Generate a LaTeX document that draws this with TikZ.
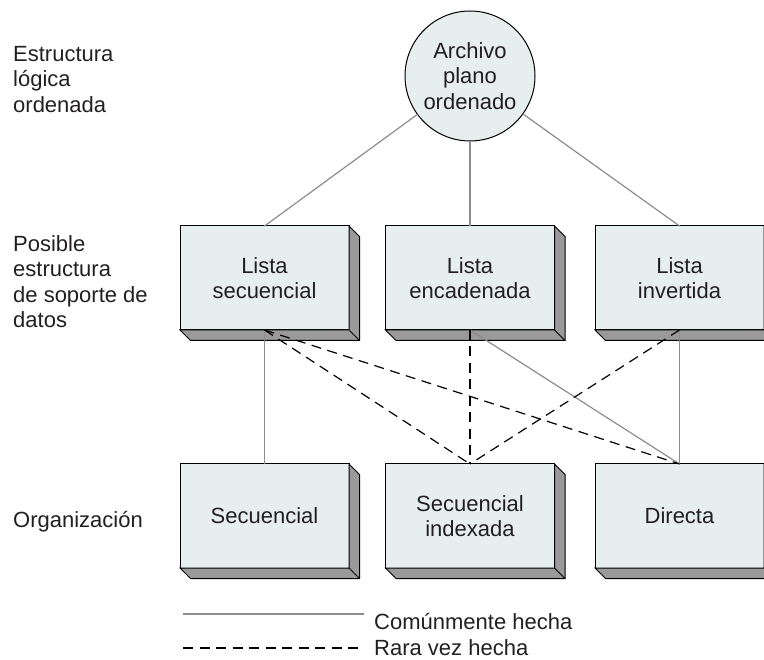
\documentclass[tikz,border=0pt]{standalone}
\usepackage{fontspec}
\setmainfont{Liberation Sans}
\definecolor{boxfill}{HTML}{E6EFEE}
\definecolor{sidegray}{HTML}{9A9A9A}
\definecolor{linegray}{HTML}{8C8C8C}
\definecolor{textcol}{HTML}{231F20}
\begin{document}
\begin{tikzpicture}[x=1pt,y=-1pt,
  every node/.style={font=\fontsize{22}{25.5}\selectfont, text=textcol},
  blockbox/.style={draw=black, line width=1pt, fill=boxfill, minimum width=169pt,
    minimum height=104pt, inner sep=0pt, outer sep=0pt, align=center},
  circbox/.style={circle, draw=black, line width=1pt, fill=boxfill, minimum size=130pt,
    inner sep=0pt, outer sep=0pt, align=center},
  face/.style={draw=black, line width=1pt, fill=sidegray, line join=miter},
  sidelabel/.style={align=left, inner sep=0pt, anchor=north west},
  commonline/.style={draw=linegray, line width=1.2pt},
  rareline/.style={draw=black, line width=1.2pt, dash pattern=on 10pt off 6.5pt},
  legendtext/.style={anchor=base west, inner sep=0pt}
]
\useasboundingbox (0,0) rectangle (764,660);
\clip (0,0) rectangle (764,660);

% left labels
\node[sidelabel] (lab1) at (13,46) {Estructura\\lógica\\ordenada};
\node[sidelabel] (lab2) at (13,235) {Posible\\estructura\\de soporte de\\datos};
\node[sidelabel] (lab3) at (13,511) {Organización};

% top circle
\node[circbox] (c) at (470,76) {Archivo\\plano\\ordenado};

% boxes
\node[blockbox] (b1) at (264.5,278) {Lista\\secuencial};
\node[blockbox] (b2) at (470,278) {Lista\\encadenada};
\node[blockbox] (b3) at (679.5,278) {Lista\\invertida};
\node[blockbox] (b4) at (264.5,516) {Secuencial};
\node[blockbox] (b5) at (470,516) {Secuencial\\indexada};
\node[blockbox] (b6) at (679.5,516) {Directa};

\foreach \n in {b1,b2,b3,b4,b5,b6}{
  \draw[face] (\n.south west) -- ([shift={(10.5,10.5)}]\n.south west)
    -- ([shift={(10.5,10.5)}]\n.south east) -- ([shift={(10.5,10.5)}]\n.north east)
    -- (\n.north east) -- (\n.south east) -- cycle;
  \draw[face] (\n.south east) -- ([shift={(10.5,10.5)}]\n.south east);
}

% connectors
\draw[commonline] (c) -- (b1.north);
\draw[commonline] (c) -- (b2.north);
\draw[commonline] (c) -- (b3.north);
\draw[commonline] (b1.south) -- (b4.north);
\draw[commonline] (b2.south) -- (b6.north);
\draw[commonline] (b3.south) -- (b6.north);
\draw[rareline] (b1.south) -- (b5.north);
\draw[rareline] (b1.south) -- (b6.north);
\draw[rareline] (b2.south) -- (b5.north);
\draw[rareline] (b3.south) -- (b5.north);

% legend
\coordinate (s1) at (183,614);
\coordinate (s2) at (364,614);
\coordinate (r1) at (183,648);
\coordinate (r2) at (364,648);
\draw[commonline] (s1) -- (s2);
\draw[rareline] (r1) -- (r2);
\node[legendtext] (t1) at (374,629) {Comúnmente hecha};
\node[legendtext] (t2) at (374,655) {Rara vez hecha};
\end{tikzpicture}
\end{document}
